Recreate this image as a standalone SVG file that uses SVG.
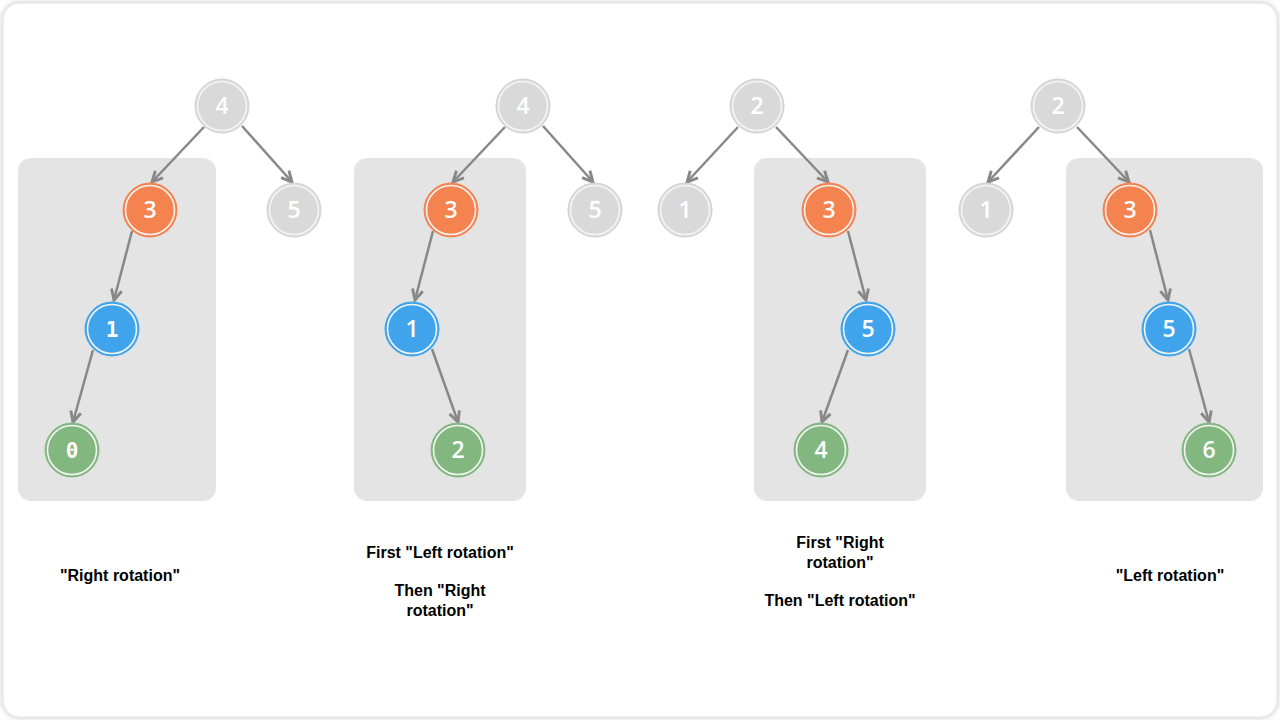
<svg xmlns="http://www.w3.org/2000/svg" width="1280" height="720" viewBox="0 0 1280 720">
  <defs>
    <filter id="shadow" x="-5%" y="-5%" width="110%" height="110%">
      <feDropShadow dx="0" dy="0" stdDeviation="2.5" flood-color="#000" flood-opacity="0.25"/>
    </filter>
    <marker id="arr" markerUnits="userSpaceOnUse" markerWidth="14" markerHeight="14" viewBox="0 0 12 12" refX="10" refY="6" orient="auto">
      <path d="M1,1.5 L10,6 L1,10.5" fill="none" stroke="#888888" stroke-width="2.5" stroke-linejoin="miter"/>
    </marker>
    <style>
      .panel { fill: #e4e4e4; }
      .edge { stroke: #888888; stroke-width: 2.5; fill: none; marker-end: url(#arr); }
      .ring { fill: none; stroke: #f4f4f4; stroke-width: 1.6; }
      .g { fill: #d9d9d9; stroke: #d2d2d2; stroke-width: 1; }
      .o { fill: #f5834f; stroke: #f5834f; stroke-width: 1; }
      .b { fill: #3fa4eb; stroke: #3fa4eb; stroke-width: 1; }
      .gr { fill: #82b880; stroke: #82b880; stroke-width: 1; }
      .num { font-family: "Open Sans", "Noto Sans", sans-serif; font-size: 23px; font-weight: 600; fill: #ffffff; text-anchor: middle; }
      .mono { font-family: "DejaVu Sans Mono", monospace; font-size: 21px; font-weight: bold; fill: #ffffff; text-anchor: middle; }
      .lbl { font-family: "Liberation Sans", Arial, sans-serif; font-size: 16px; font-weight: bold; fill: #000000; text-anchor: middle; }
    </style>
  </defs>

  <rect x="3" y="3" width="1274" height="714" rx="16" fill="#ffffff" stroke="#e2e2e2" stroke-width="1" filter="url(#shadow)"/>

  <g id="panels">
    <rect class="panel" x="18" y="158" width="198" height="343" rx="13"/>
    <rect class="panel" x="354" y="158" width="172" height="343" rx="13"/>
    <rect class="panel" x="754" y="158" width="172" height="343" rx="13"/>
    <rect class="panel" x="1066" y="158" width="197" height="343" rx="13"/>
  </g>

  <g id="connectors">
    <line class="edge" x1="204" y1="127" x2="152" y2="182"/>
    <line class="edge" x1="242" y1="126" x2="292" y2="182"/>
    <line class="edge" x1="132" y1="231" x2="114" y2="300"/>
    <line class="edge" x1="93" y1="350" x2="73" y2="422"/>

    <line class="edge" x1="505" y1="127" x2="453" y2="182"/>
    <line class="edge" x1="543" y1="126" x2="593" y2="182"/>
    <line class="edge" x1="433" y1="231" x2="415" y2="300"/>
    <line class="edge" x1="432" y1="349" x2="458" y2="422"/>

    <line class="edge" x1="738" y1="127" x2="687" y2="182"/>
    <line class="edge" x1="776" y1="127" x2="828" y2="182"/>
    <line class="edge" x1="848" y1="231" x2="866" y2="300"/>
    <line class="edge" x1="848" y1="350" x2="822" y2="422"/>

    <line class="edge" x1="1039" y1="127" x2="988" y2="182"/>
    <line class="edge" x1="1077" y1="127" x2="1129" y2="182"/>
    <line class="edge" x1="1150" y1="230" x2="1168" y2="300"/>
    <line class="edge" x1="1189" y1="349" x2="1209" y2="422"/>
  </g>

  <!-- Panel 1 -->
  <g id="p1-n4"><circle class="g" cx="222" cy="106" r="27"/><circle class="ring" cx="222" cy="106" r="24.5"/><text class="num" x="222" y="114">4</text></g>
  <g id="p1-n5"><circle class="g" cx="294" cy="210" r="27"/><circle class="ring" cx="294" cy="210" r="24.5"/><text class="num" x="294" y="218">5</text></g>
  <g id="p1-n3"><circle class="o" cx="150" cy="210" r="27"/><circle class="ring" cx="150" cy="210" r="24.5"/><text class="num" x="150" y="218">3</text></g>
  <g id="p1-n1"><circle class="b" cx="112" cy="329" r="27"/><circle class="ring" cx="112" cy="329" r="24.5"/><text class="mono" x="112" y="337">1</text></g>
  <g id="p1-n0"><circle class="gr" cx="72" cy="450" r="27"/><circle class="ring" cx="72" cy="450" r="24.5"/><text class="mono" x="72" y="458">0</text></g>

  <!-- Panel 2 -->
  <g id="p2-n4"><circle class="g" cx="523" cy="106" r="27"/><circle class="ring" cx="523" cy="106" r="24.5"/><text class="num" x="523" y="114">4</text></g>
  <g id="p2-n5"><circle class="g" cx="595" cy="210" r="27"/><circle class="ring" cx="595" cy="210" r="24.5"/><text class="num" x="595" y="218">5</text></g>
  <g id="p2-n3"><circle class="o" cx="451" cy="210" r="27"/><circle class="ring" cx="451" cy="210" r="24.5"/><text class="num" x="451" y="218">3</text></g>
  <g id="p2-n1"><circle class="b" cx="412" cy="329" r="27"/><circle class="ring" cx="412" cy="329" r="24.5"/><text class="num" x="412" y="337">1</text></g>
  <g id="p2-n2"><circle class="gr" cx="458" cy="450" r="27"/><circle class="ring" cx="458" cy="450" r="24.5"/><text class="num" x="458" y="458">2</text></g>

  <!-- Panel 3 -->
  <g id="p3-n2"><circle class="g" cx="757" cy="106" r="27"/><circle class="ring" cx="757" cy="106" r="24.5"/><text class="num" x="757" y="114">2</text></g>
  <g id="p3-n1"><circle class="g" cx="685" cy="210" r="27"/><circle class="ring" cx="685" cy="210" r="24.5"/><text class="num" x="685" y="218">1</text></g>
  <g id="p3-n3"><circle class="o" cx="829" cy="210" r="27"/><circle class="ring" cx="829" cy="210" r="24.5"/><text class="num" x="829" y="218">3</text></g>
  <g id="p3-n5"><circle class="b" cx="868" cy="329" r="27"/><circle class="ring" cx="868" cy="329" r="24.5"/><text class="num" x="868" y="337">5</text></g>
  <g id="p3-n4"><circle class="gr" cx="821" cy="450" r="27"/><circle class="ring" cx="821" cy="450" r="24.5"/><text class="num" x="821" y="458">4</text></g>

  <!-- Panel 4 -->
  <g id="p4-n2"><circle class="g" cx="1058" cy="106" r="27"/><circle class="ring" cx="1058" cy="106" r="24.5"/><text class="num" x="1058" y="114">2</text></g>
  <g id="p4-n1"><circle class="g" cx="986" cy="210" r="27"/><circle class="ring" cx="986" cy="210" r="24.5"/><text class="num" x="986" y="218">1</text></g>
  <g id="p4-n3"><circle class="o" cx="1130" cy="210" r="27"/><circle class="ring" cx="1130" cy="210" r="24.5"/><text class="num" x="1130" y="218">3</text></g>
  <g id="p4-n5"><circle class="b" cx="1169" cy="329" r="27"/><circle class="ring" cx="1169" cy="329" r="24.5"/><text class="num" x="1169" y="337">5</text></g>
  <g id="p4-n6"><circle class="gr" cx="1209" cy="450" r="27"/><circle class="ring" cx="1209" cy="450" r="24.5"/><text class="num" x="1209" y="458">6</text></g>

  <g id="labels">
    <text class="lbl" x="120" y="581">"Right rotation"</text>
    <text class="lbl" x="440" y="558">First "Left rotation"</text>
    <text class="lbl" x="440" y="596">Then "Right</text>
    <text class="lbl" x="440" y="616">rotation"</text>
    <text class="lbl" x="840" y="548">First "Right</text>
    <text class="lbl" x="840" y="568">rotation"</text>
    <text class="lbl" x="840" y="606">Then "Left rotation"</text>
    <text class="lbl" x="1170" y="581">"Left rotation"</text>
  </g>
</svg>
